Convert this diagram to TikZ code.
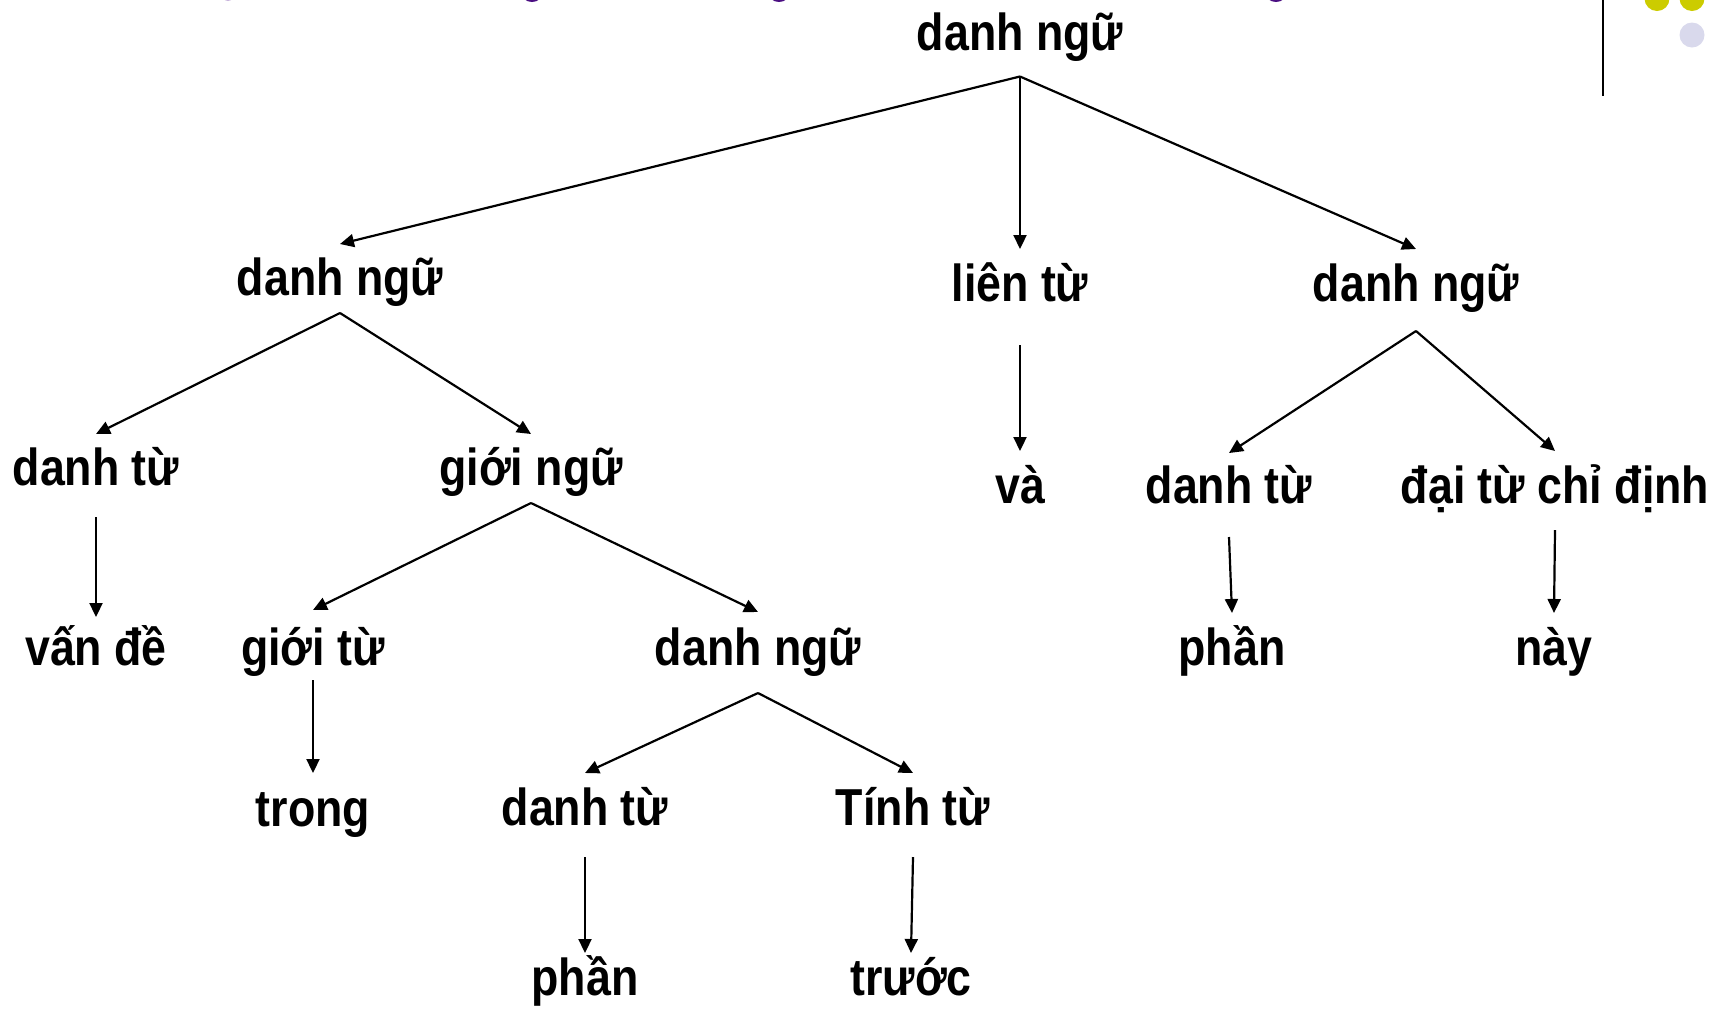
\documentclass[tikz,border=0pt]{standalone}
\usepackage{fontspec}
\setmainfont[FakeStretch=0.86]{Liberation Sans}
\usetikzlibrary{arrows.meta}
\definecolor{tim}{RGB}{75,15,130}
\definecolor{timnhat}{RGB}{200,180,220}
\definecolor{vang}{RGB}{204,204,0}
\definecolor{tim2}{RGB}{217,217,236}
\tikzset{
  tu/.style={anchor=base, inner sep=0pt, font=\fontsize{26}{30}\selectfont\bfseries},
  mui/.style={-{Triangle[length=7pt,width=6.5pt]}, line width=1.1pt}
}
\begin{document}
\begin{tikzpicture}[x=0.5pt, y=-0.5pt, line join=round]
\useasboundingbox (0,0) rectangle (1713,1014);
% phan con lai cua tieu de va trang tri
\fill[timnhat] (228,-8) ellipse (7 and 9);
\foreach \x in {532,779,1276} \fill[tim] (\x,-8) ellipse (11 and 10);
\draw[line width=1pt] (1603,0)--(1603,96);
\fill[vang] (1657,-1.5) circle (12.5) (1692,-1.5) circle (12.5);
\fill[tim2] (1692,35) circle (12.5);
% cac nut cua cay
\node[tu] (goc) at (1020,50) {danh ngữ};
\node[tu] (dn1) at (340,295) {danh ngữ};
\node[tu] (lt) at (1020,301) {liên từ};
\node[tu] (dn2) at (1416,301) {danh ngữ};
\node[tu] (dt1) at (96,485) {danh từ};
\node[tu] (gn) at (531,485) {giới ngữ};
\node[tu] (va) at (1020,503) {và};
\node[tu] (dt2) at (1229,503) {danh từ};
\node[tu] (dtcd) at (1555,503) {đại từ chỉ định};
\node[tu] (vd) at (96,665) {vấn đề};
\node[tu] (gt) at (313,665) {giới từ};
\node[tu] (dn3) at (758,665) {danh ngữ};
\node[tu] (ph1) at (1232,665) {phần};
\node[tu] (nay) at (1554,665) {này};
\node[tu] (tr) at (313,826) {trong};
\node[tu] (dt3) at (585,825) {danh từ};
\node[tu] (tt) at (913,825) {Tính từ};
\node[tu] (ph2) at (585,995) {phần};
\node[tu] (tc) at (911,995) {trước};
% mui ten: nut cha/nut con/khoang duoi/khoang tren (pt)
\foreach \a/\b/\s/\e in {goc/dn1/13.25/25.5, goc/lt/13.25/26, goc/dn2/13.25/26,
  dn1/dt1/9/25.5, dn1/gn/9/25.5, lt/va/22/26, dn2/dt2/15/25, dn2/dtcd/15/26,
  dt1/vd/16/24, gn/gt/9/27.5, gn/dn3/9/26.5, dt2/ph1/17/26, dtcd/nay/13.5/26,
  gt/tr/7.5/26.5, dn3/dt3/14/26, dn3/tt/14/26, dt3/ph2/16/21, tt/tc/16/21}
  \draw[mui] ([yshift=-\s pt]\a.base) -- ([yshift=\e pt]\b.base);
\end{tikzpicture}
\end{document}
